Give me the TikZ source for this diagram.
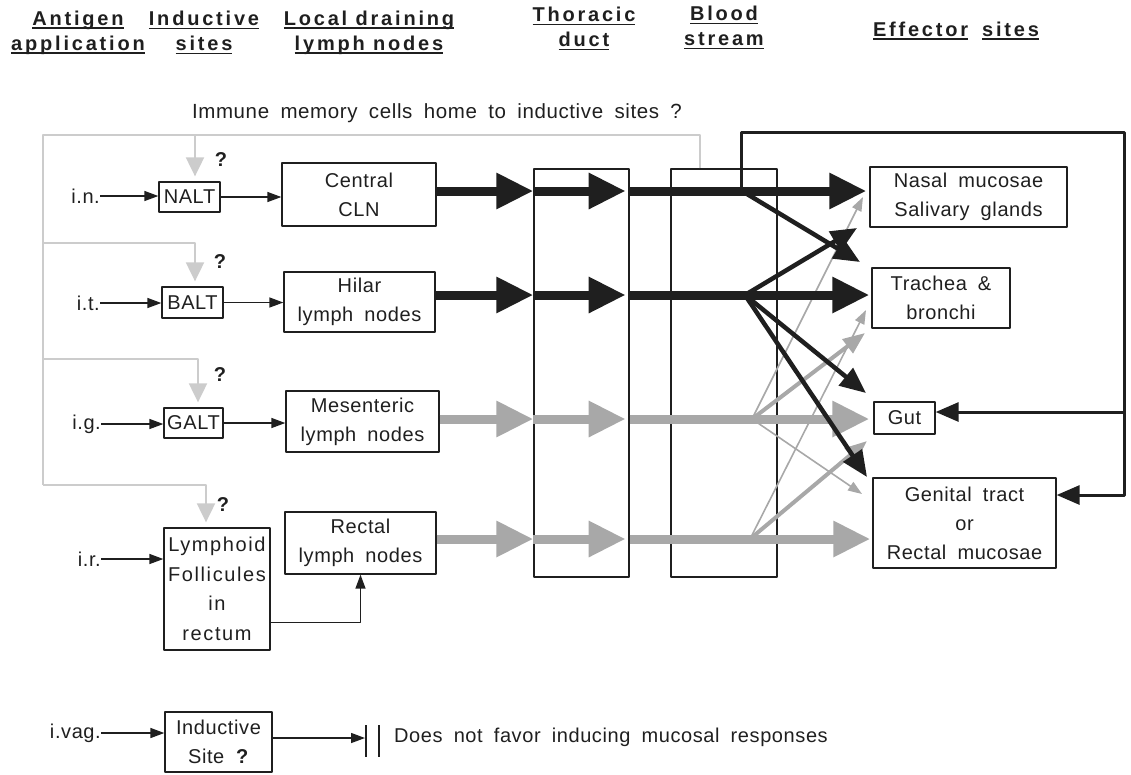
\documentclass[tikz,border=0pt]{standalone}
\usepackage{fontspec}
\setmainfont{Liberation Sans}[LetterSpace=3,WordSpace=1.8]
\newfontfamily\headfont{Liberation Sans}[LetterSpace=14]
\usetikzlibrary{arrows.meta}
\definecolor{ink}{gray}{0.12}
\definecolor{fbgray}{gray}{0.80}
\definecolor{flowgray}{gray}{0.66}
\newcommand{\hdul}[1]{\setbox0\hbox{#1}\rlap{\rule[-3.5pt]{\wd0}{1.8pt}}\box0\relax}
\begin{document}
\begin{tikzpicture}[x=1pt,y=-1pt,line join=round,color=ink,font=\fontsize{20}{29}\selectfont]
\tikzset{box/.style={draw,line width=1.3pt,inner sep=0pt,align=center},
  lbl/.style={anchor=east,inner sep=0pt},
  smallarr/.style={line width=1.4pt,-{Triangle[length=14pt,width=10pt]}},
  big/.style={line width=9pt,-{Triangle[length=37pt,width=34pt]}},
  bigblk/.style={big,draw=ink},
  biggry/.style={big,draw=flowgray},
  diagblk/.style={line width=4.5pt,-{Triangle[length=26pt,width=22pt]}},
  midgry/.style={draw=flowgray,line width=4pt,-{Triangle[length=22pt,width=17pt]}},
  thingry/.style={draw=flowgray,line width=1.6pt,-{Triangle[length=14pt,width=10pt]}},
  fb/.style={draw=fbgray,line width=2pt},
  fbarr/.style={fb,-{Triangle[length=19pt,width=18pt]}},
  loopln/.style={line width=3pt},
  hd/.style={font=\headfont\bfseries\fontsize{20}{25}\selectfont,align=center,inner sep=0pt},
  qm/.style={font=\bfseries\fontsize{20}{20}\selectfont,inner sep=0pt}}
\useasboundingbox (0,0) rectangle (1131,774);

\node[hd] (antigen) at (78,33) {\hdul{Antigen}\\\hdul{application}};
\node[hd] (indsites) at (204,33) {\hdul{Inductive}\\\hdul{sites}};
\node[hd] (ldln) at (369,33) {\hdul{Local draining}\\\hdul{lymph nodes}};
\node[hd] (thdct) at (584,29) {\hdul{Thoracic}\\\hdul{duct}};
\node[hd] (bldstr) at (724,28) {\hdul{Blood}\\\hdul{stream}};
\node[hd] (effsites) at (956,31) {\hdul{Effector}\hspace{14pt}\hdul{sites}};
\node[anchor=base,inner sep=0pt,font=\fontsize{20.5}{29}\selectfont] (memtxt) at (437,118) {Immune memory cells home to inductive sites ?};

\node[box,minimum width=61pt,minimum height=30pt] (nalt) at (189.5,197) {NALT};
\node[box,minimum width=61pt,minimum height=31pt] (balt) at (192.5,302.5) {BALT};
\node[box,minimum width=59pt,minimum height=30pt] (galt) at (193.5,423) {GALT};
\node[box,minimum width=106pt,minimum height=122pt,font=\addfontfeatures{LetterSpace=8}\fontsize{20}{29.5}\selectfont] (lymfol) at (217,589) {Lymphoid\\Follicules\\in\hspace*{20pt}\\rectum};
\node[box,minimum width=107pt,minimum height=60pt] (indsite) at (218.5,742) {Inductive\\Site \textbf{?}};
\node[box,minimum width=154pt,minimum height=63pt] (cln) at (359,194.5) {Central\\CLN};
\node[box,minimum width=151pt,minimum height=60pt] (hilar) at (359.5,302) {Hilar\\lymph nodes};
\node[box,minimum width=153pt,minimum height=61pt] (mesln) at (362.5,421.5) {Mesenteric\\lymph nodes};
\node[box,minimum width=151pt,minimum height=62pt] (rectln) at (360.5,543) {Rectal\\lymph nodes};
\node[box,minimum width=95pt,minimum height=408pt] (thor) at (581.5,373) {};
\node[box,minimum width=106pt,minimum height=408pt] (blood) at (724,373) {};
\node[box,minimum width=197pt,minimum height=60pt] (nasal) at (968.5,197) {Nasal mucosae\\Salivary glands};
\node[box,minimum width=138pt,minimum height=60pt] (trach) at (941,298) {Trachea \&\\bronchi};
\node[box,minimum width=61pt,minimum height=32pt] (gut) at (904.5,418) {Gut};
\node[box,minimum width=183pt,minimum height=90pt] (genit) at (964.5,523) {Genital tract\\or\hspace*{38pt}\\Rectal mucosae};

\node[lbl] (in) at (100,196) {i.n.};
\node[lbl] (it) at (100,303) {i.t.};
\node[lbl] (ig) at (101,424) {i.g.};
\node[lbl] (ir) at (101,559) {i.r.};
\node[lbl] (ivag) at (101,733) {i.vag.};
\foreach \x/\y [count=\i] in {221/160,220/262,220/375,223/505}
  \node[qm] (q\i) at (\x,\y) {?};

\draw[smallarr] (in) -- (in -| nalt.west);
\draw[smallarr] (it) -- (it -| balt.west);
\draw[smallarr] (ig) -- (ig -| galt.west);
\draw[smallarr] (ir) -- (ir -| lymfol.west);
\draw[smallarr] (ivag) -- (ivag -| indsite.west);
\draw[smallarr] (nalt) -- (nalt -| cln.west);
\draw[smallarr] (balt) -- (balt -| hilar.west);
\draw[smallarr] (galt) -- (galt -| mesln.west);
\draw[smallarr] ([yshift=28pt]lymfol.south east) -| (rectln.south);

\coordinate (stopbar) at (365,738);
\draw[smallarr] (indsite.east |- stopbar) -- (stopbar);
\draw[line width=1.4pt] (stopbar) ++(1,-13) -- ++(0,32) (stopbar) ++(14,-13) -- ++(0,32);
\node[anchor=west,inner sep=0pt] (nofav) at (394,737) {Does not favor inducing mucosal responses};

\coordinate (fbTR) at (700,135);
\coordinate (fbTL) at (43,135);
\coordinate (fbBL) at (43,485);
\draw[fb] (fbTR |- blood.north) -- (fbTR) -- (fbTL) -- (fbBL);
\foreach \x/\y/\n in {195/135/nalt,195/243/balt,198/359/galt,206/485/lymfol}
  \draw[fbarr,shorten >=5pt] (43,\y) -| (\n.north -| \x,0);

\coordinate (r1) at (0,191);
\coordinate (r2) at (0,295);
\coordinate (r3) at (0,419);
\coordinate (r4) at (0,539);
\coordinate (fan1) at (742,191);
\coordinate (fan2) at (745,295);
\coordinate (fan3) at (752,419);
\coordinate (fan4) at (750,539);
\coordinate (trachTop) at (860,262);
\coordinate (nasalLow) at (857,228);
\coordinate (gutTop) at (866,393);
\coordinate (genitTop) at (867,477);
\coordinate (nasalIn) at (863,197);
\coordinate (trachLow) at (865,333);
\coordinate (genitIn) at (862,494);
\coordinate (trachMid) at (866,310);
\coordinate (gutLow) at (867,441);

\foreach \a/\b in {fan3/nasalIn,fan3/genitIn,fan4/trachMid}
  \draw[thingry] (\a) -- (\b);
\foreach \a/\b in {fan3/trachLow,fan4/gutLow}
  \draw[midgry] (\a) -- (\b);

\draw[bigblk] (cln.east |- r1) -- (thor.west |- r1);
\draw[bigblk,shorten >=4pt] (thor.west |- r1) -- (thor.east |- r1);
\draw[bigblk,shorten >=3pt] (thor.east |- r1) -- (nasal.west |- r1);
\draw[bigblk] (hilar.east |- r2) -- (thor.west |- r2);
\draw[bigblk,shorten >=4pt] (thor.west |- r2) -- (thor.east |- r2);
\draw[bigblk,shorten >=2pt] (thor.east |- r2) -- (trach.west |- r2);
\draw[biggry] (mesln.east |- r3) -- (thor.west |- r3);
\draw[biggry,shorten >=4pt] (thor.west |- r3) -- (thor.east |- r3);
\draw[biggry,shorten >=4pt] (thor.east |- r3) -- (gut.west |- r3);
\draw[biggry] (rectln.east |- r4) -- (thor.west |- r4);
\draw[biggry,shorten >=4pt] (thor.west |- r4) -- (thor.east |- r4);
\draw[biggry,shorten >=2pt] (thor.east |- r4) -- (genit.west |- r4);

\draw[diagblk] (fan1) -- (trachTop);
\foreach \t in {nasalLow,gutTop,genitTop}
  \draw[diagblk] (fan2) -- (\t);

\coordinate (lpTL) at (741,132);
\coordinate (lpTR) at (1124,132);
\coordinate (lpBR) at (1124,495);
\coordinate (lpGut) at (1124,412);
\draw[loopln,-{Triangle[length=23pt,width=19pt]}] (fan1 -| lpTL) -- (lpTL) -- (lpTR) -- (lpBR) -- (lpBR -| genit.east);
\draw[loopln,-{Triangle[length=23pt,width=19pt]}] (lpGut) -- (lpGut -| gut.east);
\end{tikzpicture}
\end{document}
